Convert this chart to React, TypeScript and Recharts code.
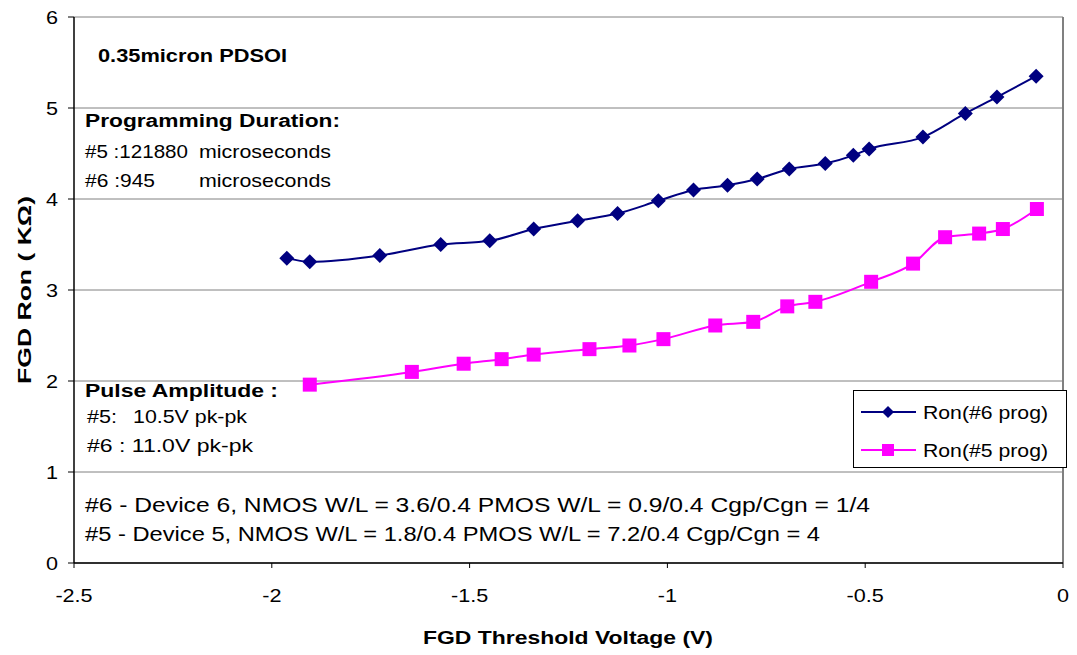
import React from 'react';
import { LineChart, Line, XAxis, YAxis, CartesianGrid, ReferenceLine, Legend } from 'recharts';

const ron6X = [-1.962, -1.904, -1.727, -1.573, -1.449, -1.338, -1.227, -1.126, -1.023, -0.934, -0.848, -0.773, -0.692, -0.601, -0.530, -0.490, -0.354, -0.247, -0.167, -0.068];
const ron6Y = [3.35, 3.31, 3.38, 3.50, 3.54, 3.67, 3.76, 3.84, 3.98, 4.10, 4.15, 4.22, 4.33, 4.39, 4.48, 4.55, 4.68, 4.94, 5.12, 5.35];

const ron5X = [-1.904, -1.646, -1.515, -1.419, -1.338, -1.197, -1.096, -1.010, -0.879, -0.783, -0.697, -0.626, -0.485, -0.379, -0.298, -0.212, -0.152, -0.066];
const ron5Y = [1.96, 2.10, 2.19, 2.24, 2.29, 2.35, 2.39, 2.46, 2.61, 2.65, 2.82, 2.87, 3.09, 3.29, 3.58, 3.62, 3.67, 3.89];

const xTicks = [-2.5, -2, -1.5, -1, -0.5, 0];
const yTicks = [0, 1, 2, 3, 4, 5, 6];

const seriesNames = ['Ron(#6 prog)', 'Ron(#5 prog)'];
const seriesColors = ['#000080', '#FF00FF'];

const ron6 = ron6X.map((x, i) => ({ x, y: ron6Y[i] }));
const ron5 = ron5X.map((x, i) => ({ x, y: ron5Y[i] }));

const FONT = '"Liberation Sans", Arial, sans-serif';

const Diamond = (props: any) => {
  const { cx, cy, fill } = props;
  if (cx == null || cy == null) return <g />;
  return <path d={`M${cx},${cy - 7.5} L${cx + 7.5},${cy} L${cx},${cy + 7.5} L${cx - 7.5},${cy} Z`} fill={fill} />;
};

const Square = (props: any) => {
  const { cx, cy, fill } = props;
  if (cx == null || cy == null) return <g />;
  return <rect x={cx - 7} y={cy - 7} width={14} height={14} fill={fill} />;
};

const XTick = (props: any) => {
  const { x, y, payload } = props;
  return (
    <text transform={`translate(${x},${y + 34}) scale(1.2,1)`} textAnchor="middle" fontFamily={FONT} fontSize={18} fill="#000">
      {payload.value}
    </text>
  );
};

const YTick = (props: any) => {
  const { x, y, payload } = props;
  return (
    <text transform={`translate(${x - 10},${y + 6.5}) scale(1.2,1)`} textAnchor="end" fontFamily={FONT} fontSize={18} fill="#000">
      {payload.value}
    </text>
  );
};

const LegendContent = (props: any) => {
  const payload = props.payload || [];
  return (
    <svg width={214} height={78} style={{ display: 'block' }}>
      <rect x={0.5} y={0.5} width={213} height={77} fill="#fff" stroke="#000" strokeWidth={1} />
      {seriesNames.map((name, i) => {
        const entry = payload.find((p: any) => p.value === name);
        const c = entry ? entry.color : seriesColors[i];
        const cy = 22 + i * 38;
        return (
          <g key={name}>
            <line x1={8} x2={63} y1={cy} y2={cy} stroke={c} strokeWidth={2} />
            {i === 0 ? (
              <path d={`M35,${cy - 6} L41,${cy} L35,${cy + 6} L29,${cy} Z`} fill={c} />
            ) : (
              <rect x={29} y={cy - 6} width={12} height={12} fill={c} />
            )}
            <text x={70} y={cy + 7} fontFamily={FONT} fontSize={19} fill="#000" textLength={125} lengthAdjust="spacingAndGlyphs">
              {name}
            </text>
          </g>
        );
      })}
    </svg>
  );
};

const T = (p: any) => (
  <text
    x={p.x}
    y={p.y}
    fontFamily={FONT}
    fontSize={p.size || 19}
    fontWeight={p.bold ? 'bold' : 'normal'}
    fill="#000"
    textLength={p.len}
    lengthAdjust="spacingAndGlyphs"
  >
    {p.children}
  </text>
);

export default function App() {
  return (
    <div style={{ position: 'absolute', left: 0, top: 0, width: 1077, height: 655, background: '#fff' }}>
      <LineChart width={1077} height={655} margin={{ top: 17, right: 14, left: 0, bottom: 33 }}>
        <CartesianGrid horizontal={true} vertical={false} stroke="#808080" strokeWidth={1} />
        <XAxis
          type="number"
          dataKey="x"
          domain={[-2.5, 0]}
          ticks={xTicks}
          allowDataOverflow
          height={59}
          tickSize={5}
          tickMargin={0}
          tick={<XTick />}
          axisLine={{ stroke: '#000', strokeWidth: 1.5 }}
          tickLine={{ stroke: '#000' }}
        />
        <YAxis
          type="number"
          dataKey="y"
          domain={[0, 6]}
          ticks={yTicks}
          allowDataOverflow
          width={74}
          tickSize={6}
          tickMargin={0}
          tick={<YTick />}
          axisLine={{ stroke: '#000', strokeWidth: 1.5 }}
          tickLine={{ stroke: '#000' }}
        />
        <ReferenceLine x={0} stroke="#808080" strokeWidth={2} />
        <Legend
          layout="vertical"
          align="center"
          verticalAlign="middle"
          content={<LegendContent />}
          wrapperStyle={{ left: 853, top: 390, width: 214, height: 78 }}
        />
        <Line
          data={ron6}
          dataKey="y"
          name={seriesNames[0]}
          type="monotone"
          stroke={seriesColors[0]}
          fill={seriesColors[0]}
          strokeWidth={2}
          dot={<Diamond />}
          activeDot={false}
          isAnimationActive={false}
        />
        <Line
          data={ron5}
          dataKey="y"
          name={seriesNames[1]}
          type="monotone"
          stroke={seriesColors[1]}
          fill={seriesColors[1]}
          strokeWidth={2}
          dot={<Square />}
          activeDot={false}
          isAnimationActive={false}
        />
      </LineChart>
      <svg width={1077} height={655} style={{ position: 'absolute', left: 0, top: 0, pointerEvents: 'none' }}>
        <T x={98} y={62} bold size={18} len={189}>0.35micron PDSOI</T>
        <T x={85} y={127} bold size={18} len={255}>Programming Duration:</T>
        <T x={85} y={158} len={103}>#5 :121880</T>
        <T x={199} y={158} len={132}>microseconds</T>
        <T x={85} y={187} len={70}>#6 :945</T>
        <T x={199} y={187} len={132}>microseconds</T>
        <T x={85} y={397} bold size={18} len={193}>Pulse Amplitude :</T>
        <T x={87} y={423} len={30}>#5:</T>
        <T x={133} y={423} len={114}>10.5V pk-pk</T>
        <T x={87} y={452} len={166}>#6 : 11.0V pk-pk</T>
        <T x={85} y={512} size={20} len={785}>#6 - Device 6, NMOS W/L = 3.6/0.4 PMOS W/L = 0.9/0.4 Cgp/Cgn = 1/4</T>
        <T x={85} y={541} size={20} len={735}>#5 - Device 5, NMOS W/L = 1.8/0.4 PMOS W/L = 7.2/0.4 Cgp/Cgn = 4</T>
        <text
          transform="translate(31,290) rotate(-90)"
          textAnchor="middle"
          fontFamily={FONT}
          fontSize={18}
          fontWeight="bold"
          fill="#000"
          textLength={188}
          lengthAdjust="spacingAndGlyphs"
        >
          FGD Ron ( KΩ)
        </text>
        <text
          x={568}
          y={644}
          textAnchor="middle"
          fontFamily={FONT}
          fontSize={18}
          fontWeight="bold"
          fill="#000"
          textLength={290}
          lengthAdjust="spacingAndGlyphs"
        >
          FGD Threshold Voltage (V)
        </text>
      </svg>
    </div>
  );
}
